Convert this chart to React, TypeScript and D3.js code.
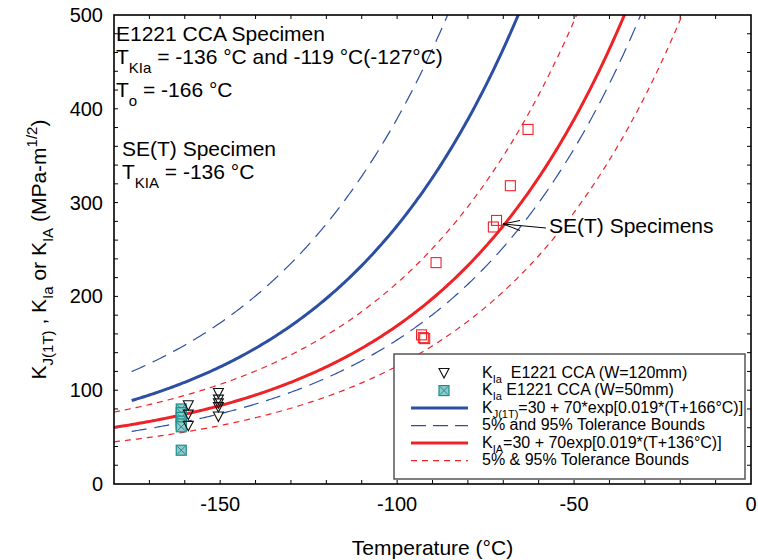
import React from "react";
import * as d3 from "d3";

// K_Ia, E1221 CCA (W=120mm)
const w120Temp = [-159, -159, -159, -150.5, -150.5, -150.5, -150.5, -150.5];
const w120K = [84, 74, 62, 97, 90, 86, 82, 72];
// K_Ia, E1221 CCA (W=50mm)
const w50Temp = [-161, -161, -161, -161, -161, -161, -161];
const w50K = [80, 76, 71, 67, 64, 61, 36];
// SE(T) specimens
const setTemp = [-63, -68, -71.9, -72.8, -89, -93.1, -92.2, -92.6];
const setK = [378, 318, 281, 274, 236, 159, 155, 156];

const xTicks = [-150, -100, -50, 0];
const yTicks = [0, 100, 200, 300, 400, 500];

// constants of the curves, from the legend
const T0cca = -166;
const T0set = -136;
const blueStart = -175;
const redStart = -180;
const redBoundFactors = [0.745, 1.27];

const BLUE = "#2c4ea3";
const RED = "#ee2328";
const TEAL = "#1c8d8d";
const FONT = "'Liberation Sans', Arial, sans-serif";

const master = (t: number, t0: number) => 30 + 70 * Math.exp(0.019 * (t - t0));
const bound = (t: number, t0: number, p: number) =>
  20 + Math.pow(Math.log(1 / (1 - p)), 0.25) * (11 + 77 * Math.exp(0.019 * (t - t0)));

export default function App() {
  const margin = { top: 15, right: 7, bottom: 76, left: 114 };
  const width = 758, height = 560;

  const x = d3.scaleLinear().domain([-180, 0]).range([margin.left, width - margin.right]);
  const y = d3.scaleLinear().domain([0, 500]).range([height - margin.bottom, margin.top]);

  const line = d3.line<[number, number]>().x(d => x(d[0])).y(d => y(d[1]));

  const blueT = d3.range(blueStart, 0.01, 0.5);
  const redT = d3.range(redStart, 0.01, 0.5);

  const blueMid = line(blueT.map(t => [t, master(t, T0cca)]));
  const blueHi = line(blueT.map(t => [t, bound(t, T0cca, 0.95)]));
  const blueLo = line(blueT.map(t => [t, bound(t, T0cca, 0.05)]));
  const redMid = line(redT.map(t => [t, master(t, T0set)]));
  const redLo = line(redT.map(t => [t, redBoundFactors[0] * master(t, T0set)]));
  const redHi = line(redT.map(t => [t, redBoundFactors[1] * master(t, T0set)]));

  const x0 = x(-180), x1 = x(0), yTop = y(500), yBot = y(0);

  const tri = (cx: number, cy: number, key: any) => (
    <path key={key} d={`M${cx - 5},${cy - 4.5}L${cx + 5},${cy - 4.5}L${cx},${cy + 5}Z`}
      fill="none" stroke="#111" strokeWidth={1.1} />
  );
  const box = (cx: number, cy: number, key: any) => (
    <g key={key}>
      <rect x={cx - 5} y={cy - 5} width={10} height={10} fill="#8fcaca" stroke={TEAL} strokeWidth={1.2} />
      <path d={`M${cx - 4},${cy - 4}L${cx + 4},${cy + 4}M${cx + 4},${cy - 4}L${cx - 4},${cy + 4}`} stroke={TEAL} strokeWidth={1} />
    </g>
  );

  const lg = { x: 394, y: 354, w: 351, h: 125 };
  const rows = [373, 390.6, 408, 425.6, 443, 460.6];

  return (
    <svg width={width} height={height} style={{ position: "absolute", left: 0, top: 0, background: "#fff" }}
      fontFamily={FONT}>
      <defs>
        <clipPath id="plot">
          <rect x={x0} y={yTop} width={x1 - x0} height={yBot - yTop} />
        </clipPath>
      </defs>

      {/* ticks */}
      {d3.range(-170, 0, 10).map(t => (
        <g key={"xt" + t} stroke="#000" strokeWidth={1}>
          <line x1={x(t)} x2={x(t)} y1={yBot} y2={yBot - 4} />
          <line x1={x(t)} x2={x(t)} y1={yTop} y2={yTop + 4} />
        </g>
      ))}
      {d3.range(20, 500, 20).map(v => (
        <g key={"yt" + v} stroke="#000" strokeWidth={1}>
          <line x1={x0} x2={x0 + 4} y1={y(v)} y2={y(v)} />
          <line x1={x1} x2={x1 - 4} y1={y(v)} y2={y(v)} />
        </g>
      ))}

      {/* curves */}
      <g clipPath="url(#plot)" fill="none">
        <path d={blueHi!} stroke={BLUE} strokeWidth={1.2} strokeDasharray="15 8" />
        <path d={blueLo!} stroke={BLUE} strokeWidth={1.2} strokeDasharray="15 8" />
        <path d={redHi!} stroke={RED} strokeWidth={1.2} strokeDasharray="6 5" />
        <path d={redLo!} stroke={RED} strokeWidth={1.2} strokeDasharray="6 5" />
        <path d={blueMid!} stroke={BLUE} strokeWidth={3} />
        <path d={redMid!} stroke={RED} strokeWidth={3} />
      </g>

      {/* data */}
      {setTemp.map((t, i) => (
        <rect key={"s" + i} x={x(t) - 5} y={y(setK[i]) - 5} width={10} height={10}
          fill="none" stroke={RED} strokeWidth={1.1} />
      ))}
      {w50Temp.map((t, i) => box(x(t), y(w50K[i]), "b" + i))}
      {w120Temp.map((t, i) => tri(x(t), y(w120K[i]), "t" + i))}

      {/* frame */}
      <rect x={x0} y={yTop} width={x1 - x0} height={yBot - yTop} fill="none" stroke="#000" strokeWidth={1.6} />

      {/* tick labels */}
      {xTicks.map(t => (
        <text key={"xl" + t} x={x(t)} y={511} textAnchor="middle" fontSize={20}>{t}</text>
      ))}
      {yTicks.map(v => (
        <text key={"yl" + v} x={103} y={y(v)} dy="0.35em" textAnchor="end" fontSize={20}>{v}</text>
      ))}

      {/* axis titles */}
      <text x={(x0 + x1) / 2} y={555} textAnchor="middle" fontSize={21}>Temperature (°C)</text>
      <text transform={`translate(46,${(yTop + yBot) / 2}) rotate(-90)`} textAnchor="middle" fontSize={21}>
        K<tspan dy={7} fontSize={15}>J(1T)</tspan><tspan dy={-7}> , K</tspan>
        <tspan dy={7} fontSize={15}>Ia</tspan><tspan dy={-7}> or K</tspan>
        <tspan dy={7} fontSize={15}>IA</tspan><tspan dy={-7}> (MPa-m</tspan>
        <tspan dy={-9} fontSize={15}>1/2</tspan><tspan dy={9}>)</tspan>
      </text>

      {/* annotations */}
      <g fontSize={21}>
        <text x={116} y={41}>E1221 CCA Specimen</text>
        <text x={116} y={64}>T<tspan dy={9} fontSize={15}>KIa</tspan><tspan dy={-9}> = -136 °C and -119 °C(-127°C)</tspan></text>
        <text x={116} y={97}>T<tspan dy={9} fontSize={15}>o</tspan><tspan dy={-9}> = -166 °C</tspan></text>
        <text x={122} y={156}>SE(T) Specimen</text>
        <text x={122} y={179}>T<tspan dy={9} fontSize={15}>KIA</tspan><tspan dy={-9}> = -136 °C</tspan></text>
        <text x={549} y={233}>SE(T) Specimens</text>
      </g>
      <g stroke="#000" strokeWidth={1} fill="none">
        <line x1={546} y1={228} x2={503} y2={224} />
        <path d="M520,220.5L503,224L520,230.5" />
      </g>

      {/* legend */}
      <rect x={lg.x} y={lg.y} width={lg.w} height={lg.h} fill="#fff" stroke="#555" strokeWidth={1.5} />
      {tri(444, rows[0], "lt")}
      {box(444, rows[1], "lb")}
      <line x1={411} x2={468} y1={rows[2]} y2={rows[2]} stroke={BLUE} strokeWidth={3} />
      <line x1={411} x2={468} y1={rows[3]} y2={rows[3]} stroke={BLUE} strokeWidth={1.2} strokeDasharray="15 7" />
      <line x1={411} x2={468} y1={rows[4]} y2={rows[4]} stroke={RED} strokeWidth={3} />
      <line x1={411} x2={468} y1={rows[5]} y2={rows[5]} stroke={RED} strokeWidth={1.2} strokeDasharray="6 5" />
      <g fontSize={16}>
        <text x={482} y={rows[0]} dy="0.3em">K<tspan dy={5} fontSize={11}>Ia</tspan><tspan dy={-5}>{"\u00a0 E1221 CCA (W=120mm)"}</tspan></text>
        <text x={482} y={rows[1]} dy="0.3em">K<tspan dy={5} fontSize={11}>Ia</tspan><tspan dy={-5}> E1221 CCA (W=50mm)</tspan></text>
        <text x={482} y={rows[2]} dy="0.3em">K<tspan dy={5} fontSize={11}>J(1T)</tspan><tspan dy={-5}>=30 + 70*exp[0.019*(T+166°C)]</tspan></text>
        <text x={482} y={rows[3]} dy="0.3em">5% and 95% Tolerance Bounds</text>
        <text x={482} y={rows[4]} dy="0.3em">K<tspan dy={5} fontSize={11}>IA</tspan><tspan dy={-5}>=30 + 70exp[0.019*(T+136°C)]</tspan></text>
        <text x={482} y={rows[5]} dy="0.3em">5% &amp; 95% Tolerance Bounds</text>
      </g>
    </svg>
  );
}
